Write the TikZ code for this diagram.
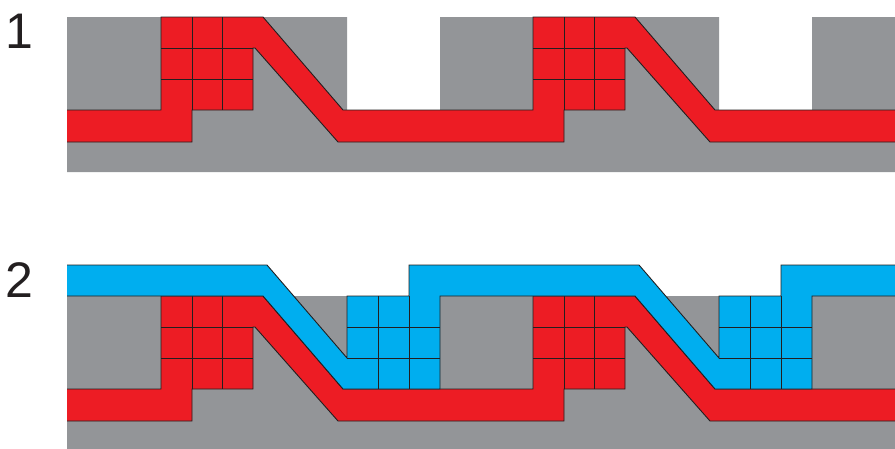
\documentclass[tikz,border=0pt]{standalone}
\usepackage{fontspec}
\setmainfont{Liberation Sans}
\definecolor{pgray}{HTML}{939598}
\definecolor{pred}{HTML}{ED1C24}
\definecolor{pblue}{HTML}{00AEEF}
\definecolor{pline}{HTML}{231F20}
\tikzset{
  basepart/.style={fill=pgray},
  redpart/.style={fill=pred},
  bluepart/.style={fill=pblue},
  edgeline/.style={draw=pline, line width=0.9pt, line join=miter},
  lbl/.style={font=\fontsize{50}{50}\selectfont, text=pline, anchor=base west, inner sep=0pt}
}
\newcommand\drawbasepanel{%
  \fill[basepart] (67,17) -- (347,17) -- (347,110) -- (440,110) -- (440,17) -- (719,17) -- (719,110) -- (812,110) -- (812,17) -- (895,17) -- (895,172) -- (67,172) -- cycle;
  \fill[redpart] (67,110) -- (161,110) -- (161,17) -- (263,17) -- (343,110) -- (533,110) -- (533,17) -- (635,17) -- (715,110) -- (895,110) -- (895,142) -- (710,142) -- (627,48) -- (625,48) -- (625,110) -- (564,110) -- (564,142) -- (338,142) -- (255,48) -- (253,48) -- (253,110) -- (192,110) -- (192,142) -- (67,142) -- cycle;
  \draw[edgeline] (67,110) -- (161,110) -- (161,17) -- (263,17) -- (343,110) -- (533,110) -- (533,17) -- (635,17) -- (715,110) -- (895,110);
  \draw[edgeline] (895,142) -- (710,142) -- (627,48) -- (625,48) -- (625,110) -- (564,110) -- (564,142) -- (338,142) -- (255,48) -- (253,48) -- (253,110) -- (192,110) -- (192,142) -- (67,142);
  \foreach \o in {0,372} {
    \draw[edgeline] (192+\o,17) -- (192+\o,110);
    \draw[edgeline] (222+\o,17) -- (222+\o,110);
    \draw[edgeline] (161+\o,48) -- (253+\o,48);
    \draw[edgeline] (161+\o,79) -- (253+\o,79);
  }%
}
\begin{document}
\begin{tikzpicture}[x=1pt,y=-1pt]
  \useasboundingbox (0,0) rectangle (895,448);
  \begin{scope}
    \clip (0,0) rectangle (895,448);
    % panel 1
    \drawbasepanel
    % panel 2
    \begin{scope}[shift={(0,279)}]
      \drawbasepanel
      \fill[bluepart] (67,-14) -- (267,-14) -- (347,79) -- (347,17) -- (409,17) -- (409,-14) -- (639,-14) -- (719,79) -- (719,17) -- (781,17) -- (781,-14) -- (895,-14) -- (895,17) -- (812,17) -- (812,110) -- (715,110) -- (635,17) -- (440,17) -- (440,110) -- (343,110) -- (263,17) -- (67,17) -- cycle;
      \draw[edgeline] (67,-14) -- (267,-14) -- (347,79) -- (347,17) -- (409,17) -- (409,-14) -- (639,-14) -- (719,79) -- (719,17) -- (781,17) -- (781,-14) -- (895,-14);
      \draw[edgeline] (895,17) -- (812,17) -- (812,110) -- (715,110) -- (635,17) -- (440,17) -- (440,110) -- (343,110) -- (263,17) -- (67,17);
      \foreach \o in {0,372} {
        \draw[edgeline] (378+\o,17) -- (378+\o,110);
        \draw[edgeline] (409+\o,17) -- (409+\o,110);
        \draw[edgeline] (347+\o,48) -- (440+\o,48);
        \draw[edgeline] (347+\o,79) -- (440+\o,79);
      }
    \end{scope}
  \end{scope}
  \node[lbl] (one) at (5,48) {1};
  \node[lbl] (two) at (5,297) {2};
\end{tikzpicture}
\end{document}
